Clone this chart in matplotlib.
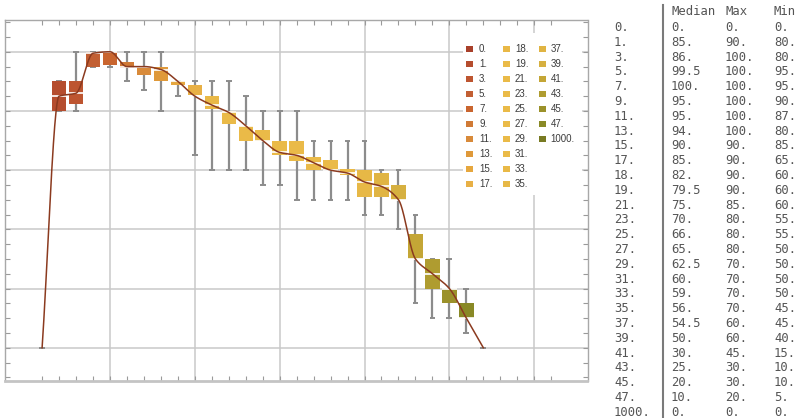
import numpy as np
import matplotlib
matplotlib.use("Agg")
import matplotlib.pyplot as plt
from matplotlib.patches import Rectangle
from matplotlib.colors import LinearSegmentedColormap

# ---------------- data ----------------
categories = ["0.", "1.", "3.", "5.", "7.", "9.", "11.", "13.", "15.", "17.",
              "18.", "19.", "21.", "23.", "25.", "27.", "29.", "31.", "33.", "35.",
              "37.", "39.", "41.", "43.", "45.", "47.", "1000."]
median = [0, 85, 86, 99.5, 100, 95, 95, 94, 90, 85, 82, 79.5, 75, 70, 66, 65,
          62.5, 60, 59, 56, 54.5, 50, 30, 25, 20, 10, 0]
maxv = [0, 90, 100, 100, 100, 100, 100, 100, 90, 90, 90, 90, 85, 80, 80, 80,
        70, 70, 70, 70, 60, 60, 45, 30, 30, 20, 0]
minv = [0, 80, 80, 95, 95, 90, 87, 80, 85, 65, 60, 60, 60, 55, 55, 50,
        50, 50, 50, 45, 45, 40, 15, 10, 10, 5, 0]
box_lo = [0, 80, 82.5, 95, 95.5, 94.4, 92, 90, 88.8, 85.3, 80.5, 75.5, 70, 70, 65, 63,
          60, 60, 58.3, 51, 51, 50, 30, 20, 15, 10, 0]
box_hi = [0, 90, 90, 100, 100, 96.6, 95, 95, 90, 88.8, 85, 80, 75, 73.5, 70, 70,
          64.5, 63.5, 60.5, 60, 59, 55, 38.5, 30, 20, 15, 0]

# ---------------- style ----------------
W, H = 799, 418
fig = plt.figure(figsize=(W / 100, H / 100), dpi=100)
fig.patch.set_facecolor("white")

ax_l, ax_r, ax_t, ax_b = 4.5, 587.5, 19.5, 381.0
ax = fig.add_axes([ax_l / W, 1 - ax_b / H, (ax_r - ax_l) / W, (ax_b - ax_t) / H])
ax.set_xlim(-1.216, 33.14)
ax.set_ylim(-11.25, 110.9)

stops = ["#a8402a", "#b64e2e", "#be5530", "#c25f33", "#c9652f", "#d07a35",
         "#d88a3a", "#e09a3a", "#e6a83e", "#e8b045", "#e9b846", "#eaba48",
         "#eaba48", "#eaba48", "#eaba48", "#eaba48", "#eaba48", "#eaba48",
         "#e9b947", "#e8b846", "#e0b443", "#d6b040", "#c4a636", "#b09c30",
         "#9c922a", "#8a8a26", "#787a22"]
cmap = LinearSegmentedColormap.from_list("sc", stops)
n = len(categories)
pos = np.arange(1, n + 1)
colors = [cmap(i / (n - 1)) for i in range(n)]

grid_c = "#c9c9c9"
for xv in range(5, 31, 5):
    ax.axvline(xv, color=grid_c, lw=1.1, zorder=0.5)
for yv in range(0, 101, 20):
    ax.axhline(yv, color=grid_c, lw=1.1, zorder=0.5)

# whiskers
wc = "#8c8c8c"
cap = 0.17
for p, lo, hi in zip(pos, minv, maxv):
    ax.vlines(p, lo, hi, color=wc, lw=1.6, zorder=1)
    ax.hlines([lo, hi], p - cap, p + cap, color=wc, lw=1.4, zorder=1)

# boxes
bw = 0.85
heights = np.array(box_hi) - np.array(box_lo)
ax.bar(pos, heights, bottom=box_lo, width=bw, color=colors, linewidth=0, zorder=2)
for p, m, lo, hi in zip(pos, median, box_lo, box_hi):
    if hi > lo:
        ax.hlines(m, p - bw / 2, p + bw / 2, color="white", lw=1.2, zorder=2.5)

# smooth median line: monotone cubic (PCHIP-style) through the medians
med = np.array(median, dtype=float)
delta = np.diff(med)
d = np.zeros(n)
for i in range(1, n - 1):
    a, b = delta[i - 1], delta[i]
    if a * b > 0:
        d[i] = 2.0 / (1.0 / a + 1.0 / b)
    else:
        d[i] = 0.0
d[0] = delta[0]
d[-1] = delta[-1]
xs, ys = [], []
for k in range(n - 1):
    t = np.linspace(0, 1, 40)
    h00 = 2 * t**3 - 3 * t**2 + 1
    h10 = t**3 - 2 * t**2 + t
    h01 = -2 * t**3 + 3 * t**2
    h11 = t**3 - t**2
    xs.append(pos[k] + t)
    ys.append(h00 * med[k] + h10 * d[k] + h01 * med[k + 1] + h11 * d[k + 1])
ax.plot(np.concatenate(xs), np.concatenate(ys), color="#8b3a1f", lw=1.1,
        zorder=3, solid_joinstyle="round")

# axes frame / ticks
for s in ["left", "right", "top"]:
    ax.spines[s].set_color("#a8a8a8")
    ax.spines[s].set_linewidth(1.0)
ax.spines["bottom"].set_color("#c4c4c4")
ax.spines["bottom"].set_linewidth(2.0)
ax.set_xticks(np.arange(1, 32))
ax.set_yticks(np.arange(-10, 111, 5))
ax.tick_params(axis="both", which="both", direction="in", length=3.5, width=0.8,
               colors="#9a9a9a", labelbottom=False, labelleft=False,
               top=True, right=True)


# legend (three columns)
def fx(px):
    return px / W


def fy(py):
    return 1 - py / H


fig.add_artist(Rectangle((fx(463), fy(195)), (582 - 463) / W, (195 - 33) / H,
                         transform=fig.transFigure, facecolor="white",
                         edgecolor="none", zorder=5))
mx = [470, 506.7, 542.3]
lx = [479, 515, 550.5]
for i, cat in enumerate(categories):
    c, r = i // 10, i % 10
    py = 49.3 + r * 14.95
    fig.add_artist(Rectangle((fx(mx[c] - 3.5), fy(py + 3)), 7 / W, 6 / H,
                             transform=fig.transFigure, facecolor=colors[i],
                             edgecolor="none", zorder=6))
    fig.text(fx(lx[c]), fy(py), cat, fontsize=7, color="#3c3c3c",
             family="Liberation Sans", va="center", ha="left", zorder=6)


# data table on the right
def fmt(v):
    return f"{int(v)}." if float(v).is_integer() else f"{v}"


tc = "#555555"
tfont = dict(family="DejaVu Sans Mono", fontsize=8.8, color=tc, va="center", ha="left")
col_x = [614, 671, 725, 774]
fig.text(fx(col_x[1]), fy(11.5), "Median", **tfont)
fig.text(fx(col_x[2]), fy(11.5), "Max", **tfont)
fig.text(fx(col_x[3]), fy(11.5), "Min", **tfont)
for i, cat in enumerate(categories):
    py = 27.5 + i * 14.8
    fig.text(fx(col_x[0]), fy(py), cat, **tfont)
    fig.text(fx(col_x[1]), fy(py), fmt(median[i]), **tfont)
    fig.text(fx(col_x[2]), fy(py), fmt(maxv[i]), **tfont)
    fig.text(fx(col_x[3]), fy(py), fmt(minv[i]), **tfont)
fig.add_artist(plt.Line2D([fx(662.5), fx(662.5)], [fy(5), fy(418)],
                          transform=fig.transFigure, color="#7a7a7a", lw=1.5))

fig.savefig("out.png", dpi=100, facecolor="white")
